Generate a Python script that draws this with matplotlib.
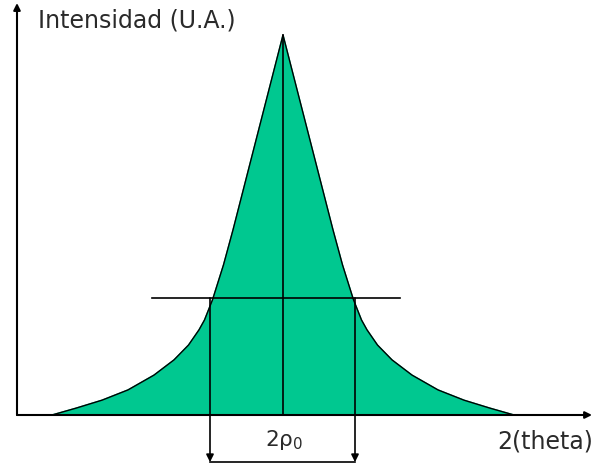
import matplotlib
matplotlib.use("Agg")
import matplotlib.pyplot as plt
import numpy as np

# Diffraction peak profile (arbitrary units): peak position on the 2(theta) axis,
# and the half-width of the peak at a series of intensity levels.
peak_center = 26.6
levels = [100.0, 48.7, 39.5, 30.3, 25.0, 22.4, 18.4, 14.5, 10.5, 6.6, 3.9, 1.8, 0.0]
half_widths = [0.0, 5.0, 5.95, 7.05, 7.85, 8.4, 9.45, 10.9, 12.9, 15.5, 18.1, 20.7, 23.1]

# Reference level and width markers
ref_level = 30.8
ref_line_span = (13.5, 38.3)
width_left, width_right = 19.3, 33.8
dim_level = -12.4

# Axes extent
x_axis_end = 57.5
y_axis_end = 108.4

ylabel = "Intensidad (U.A.)"
xlabel = "2(theta)"
width_label = "2ρ$_0$"

fill_color = "#00c890"
text_color = "#2a2a2a"

fig = plt.figure(figsize=(5.95, 4.66), dpi=100)
ax = fig.add_axes([0, 0, 1, 1])
ax.set_xlim(-1.7, 57.8)
ax.set_ylim(-13.42, 109.2)
ax.axis("off")

# Peak outline: left flank from baseline up to the top, then right flank back down
lv = np.array(levels)
hw = np.array(half_widths)
xs = np.concatenate([peak_center - hw[::-1], peak_center + hw[1:]])
ys = np.concatenate([lv[::-1], lv[1:]])
ax.fill(xs, ys, color=fill_color, zorder=1)
ax.plot(xs, ys, color="black", lw=1.0, zorder=2, solid_joinstyle="round")

# Coordinate axes with arrowheads
arrow_kw = dict(arrowstyle="-|>", color="black", lw=1.5, mutation_scale=10,
                shrinkA=0, shrinkB=0)
ax.annotate("", xy=(x_axis_end, 0), xytext=(0, 0), arrowprops=arrow_kw, zorder=3)
ax.annotate("", xy=(0, y_axis_end), xytext=(0, 0), arrowprops=arrow_kw, zorder=3)

# Vertical line through the peak maximum
ax.plot([peak_center, peak_center], [0, levels[0]], color="black", lw=1.2, zorder=3)

# Horizontal reference level
ax.plot(ref_line_span, [ref_level, ref_level], color="black", lw=1.2, zorder=3)

# Width markers dropping below the axis, joined by a dimension line
dim_kw = dict(arrowstyle="-|>", color="black", lw=1.2, mutation_scale=11,
              shrinkA=0, shrinkB=0)
for xw in (width_left, width_right):
    ax.annotate("", xy=(xw, dim_level), xytext=(xw, ref_level), arrowprops=dim_kw, zorder=3)
ax.plot([width_left, width_right], [dim_level, dim_level], color="black", lw=1.2, zorder=3)

# Text labels
ax.text(2.1, 103.7, ylabel, fontsize=17, color=text_color, ha="left", va="center")
ax.text(57.6, -6.9, xlabel, fontsize=17, color=text_color, ha="right", va="center")
ax.text(peak_center + 0.1, -6.6, width_label, fontsize=15.5, color=text_color,
        ha="center", va="center")

fig.savefig("out.png", dpi=100, facecolor="white")
